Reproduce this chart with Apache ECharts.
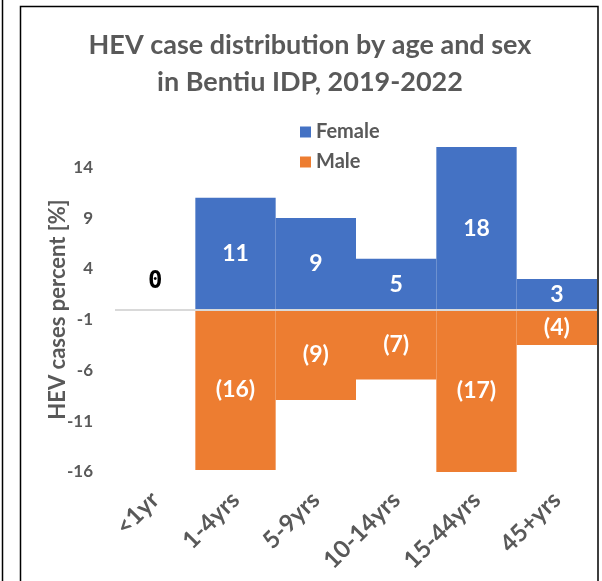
<!DOCTYPE html>
<html>
<head>
<meta charset="utf-8">
<title>HEV case distribution</title>
<script src="https://cdn.jsdelivr.net/npm/echarts@6/dist/echarts.min.js"></script>
<style>
  html, body { margin: 0; padding: 0; background: #fff; }
  #chart { width: 602px; height: 581px; }
</style>
</head>
<body>
<div id="chart"></div>
<script>
const categories = ['<1yr', '1-4yrs', '5-9yrs', '10-14yrs', '15-44yrs', '45+yrs']
const femaleValues = [0, 11, 9, 5, 16, 3]
const femaleLabels = ['0', '11', '9', '5', '18', '3']
const maleValues = [0, -15.8, -8.9, -6.9, -16, -3.5]
const maleLabels = ['', '(16)', '(9)', '(7)', '(17)', '(4)']
const yTickLabels = [-16, -11, -6, -1, 4, 9, 14]

const gray = '#595959'
const font = 'Lato'

const chart = echarts.init(document.getElementById('chart'))

chart.setOption({
  animation: false,
  title: {
    text: 'HEV case distribution by age and sex\nin Bentiu IDP, 2019-2022',
    left: 310,
    top: 27,
    padding: 0,
    textAlign: 'center',
    textStyle: {
      fontFamily: font,
      fontWeight: 'bold',
      fontSize: 27,
      lineHeight: 37,
      color: gray
    }
  },
  legend: {
    orient: 'vertical',
    left: 300,
    top: 122,
    padding: 0,
    itemWidth: 11,
    itemHeight: 11,
    itemGap: 10,
    icon: 'rect',
    textStyle: {
      fontFamily: font,
      fontWeight: 'bold',
      fontSize: 20,
      lineHeight: 20,
      color: gray
    },
    data: ['Female', 'Male']
  },
  // box round the chart and the edge of the neighbouring panel
  graphic: [
    {
      type: 'rect',
      silent: true,
      shape: { x: 20.5, y: 6.5, width: 577.5, height: 620 },
      style: { fill: 'none', stroke: '#000', lineWidth: 1.5 }
    },
    {
      type: 'line',
      silent: true,
      shape: { x1: 2.5, y1: 0, x2: 2.5, y2: 581 },
      style: { stroke: '#000', lineWidth: 1.5 }
    }
  ],
  grid: {
    left: 115,
    right: 5,
    top: 147,
    bottom: 109
  },
  xAxis: {
    type: 'category',
    data: categories,
    axisLine: { show: false, onZero: false },
    axisTick: { show: false },
    axisLabel: {
      rotate: 45,
      margin: 24,
      fontFamily: font,
      fontWeight: 'bold',
      fontSize: 24,
      color: gray
    }
  },
  yAxis: {
    type: 'value',
    name: 'HEV cases percent [%]',
    nameLocation: 'middle',
    nameGap: 46,
    nameMoveOverlap: false,
    nameTextStyle: {
      fontFamily: font,
      fontWeight: 'bold',
      fontSize: 22,
      color: gray
    },
    min: -16,
    max: 16,
    interval: 1,
    axisLine: { show: false },
    axisTick: { show: false },
    splitLine: { show: false },
    axisLabel: {
      margin: 22,
      fontFamily: font,
      fontWeight: 'bold',
      fontSize: 17,
      color: gray,
      formatter: v => (yTickLabels.includes(v) ? String(v) : '')
    }
  },
  series: [
    {
      name: 'Female',
      type: 'bar',
      stack: 'sex',
      barCategoryGap: '0%',
      itemStyle: { color: '#4472C4' },
      label: {
        show: true,
        position: 'inside',
        color: '#fff',
        fontFamily: font,
        fontWeight: 'bold',
        fontSize: 23,
        formatter: p => femaleLabels[p.dataIndex]
      },
      data: femaleValues.map((v, i) => v === 0 ? {
        value: v,
        label: {
          position: 'top',
          distance: 16,
          color: '#000',
          fontFamily: 'DejaVu Sans Mono',
          fontSize: 24
        }
      } : v)
    },
    {
      name: 'Male',
      type: 'bar',
      stack: 'sex',
      barCategoryGap: '0%',
      itemStyle: { color: '#ED7D31' },
      label: {
        show: true,
        position: 'inside',
        color: '#fff',
        fontFamily: font,
        fontWeight: 'bold',
        fontSize: 23,
        formatter: p => maleLabels[p.dataIndex]
      },
      markLine: {
        silent: true,
        symbol: 'none',
        label: { show: false },
        lineStyle: { color: '#d9d9d9', width: 2, type: 'solid' },
        data: [{ yAxis: 0 }]
      },
      data: maleValues
    }
  ]
})
</script>
</body>
</html>
